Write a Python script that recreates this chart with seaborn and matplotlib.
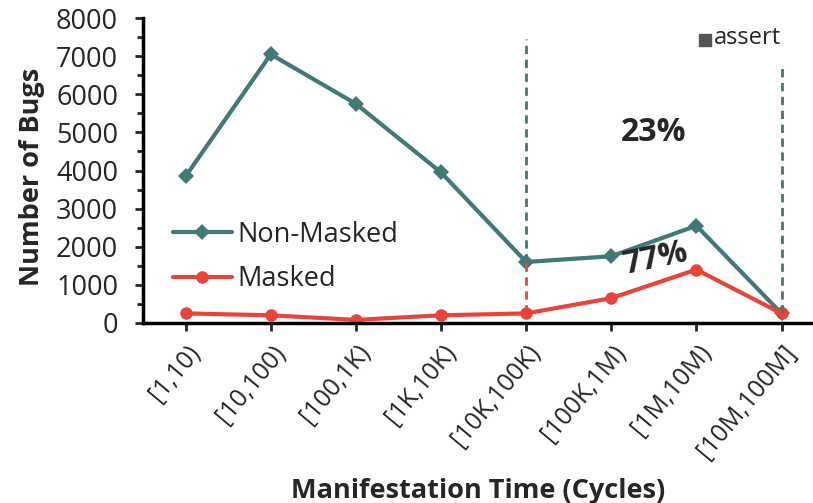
import matplotlib.pyplot as plt
import numpy as np
import pandas as pd
import seaborn as sns
from matplotlib.ticker import MultipleLocator

CATEGORIES = ["[1,10)", "[10,100)", "[100,1K)", "[1K,10K)", "[10K,100K)",
              "[100K,1M)", "[1M,10M)", "[10M,100M]"]
NON_MASKED = [3850, 7050, 5750, 3950, 1600, 1750, 2550, 250]
MASKED = [250, 200, 80, 200, 250, 650, 1400, 250]

TEAL = "#417878"
RED = "#E8443A"


def main() -> None:
    sns.set_theme(style="ticks", context="notebook")
    plt.rcParams["font.family"] = ["Open Sans", "DejaVu Sans"]

    df = pd.DataFrame({"x": np.arange(len(CATEGORIES)),
                       "Non-Masked": NON_MASKED, "Masked": MASKED})

    fig = plt.figure(figsize=(8.13, 5.03), dpi=100)
    ax = fig.add_axes([0.176, 0.358, 0.824, 0.606])

    sns.lineplot(data=df, x="x", y="Non-Masked", ax=ax, color=TEAL, lw=3,
                 marker="D", markersize=8, markeredgewidth=0, label="Non-Masked")
    sns.lineplot(data=df, x="x", y="Masked", ax=ax, color=RED, lw=3,
                 marker="o", markersize=9, markeredgewidth=0, label="Masked")

    # Trennlinien fuer den Bereich ab [10K,100K)
    ax.vlines(4, NON_MASKED[4], 7450, color=TEAL, ls=(0, (3, 2)), lw=2)
    ax.vlines(4, MASKED[4], NON_MASKED[4], color=RED, ls=(0, (3, 2)), lw=2)
    ax.vlines(7, MASKED[7], 6800, color=TEAL, ls=(0, (3, 2)), lw=2)

    ax.text(5.5, 5000, "23%", fontsize=23, fontweight="bold", ha="center", va="center")
    ax.text(5.52, 1680, "77%", fontsize=23, fontweight="bold", ha="center", va="center",
            rotation=12)
    ax.scatter([6.1], [7430], marker="s", s=80, color="#555555")
    ax.text(6.2, 7470, "assert", fontsize=17, ha="left", va="center")

    ax.set_xlim(-0.5, 7.37)
    ax.set_ylim(0, 8000)
    ax.set_xticks(df["x"])
    ax.set_xticklabels(CATEGORIES, rotation=50, ha="right", rotation_mode="anchor",
                       fontsize=18)
    ax.yaxis.set_major_locator(MultipleLocator(1000))
    ax.yaxis.set_minor_locator(MultipleLocator(500))
    ax.tick_params(axis="y", labelsize=19.5, width=2, length=6, pad=12)
    ax.tick_params(axis="y", which="minor", width=2, length=4)
    ax.tick_params(axis="x", width=2, length=6, pad=6)
    for side in ["left", "bottom"]:
        ax.spines[side].set_linewidth(2.5)
        ax.spines[side].set_color("black")
    sns.despine(ax=ax)

    ax.set_xlabel("Manifestation Time (Cycles)", fontsize=19.5, fontweight="bold")
    ax.set_ylabel("Number of Bugs", fontsize=19.5, fontweight="bold")
    ax.xaxis.set_label_coords(0.5, -0.51)
    ax.yaxis.set_label_coords(-0.146, 0.48)

    ax.legend(loc="upper left", bbox_to_anchor=(0.028, 0.37), frameon=False,
              fontsize=19.5, handlelength=2.2, handletextpad=0.2, labelspacing=0.6,
              borderaxespad=0)

    fig.savefig("out.png", dpi=100)
    plt.close(fig)


if __name__ == "__main__":
    main()
